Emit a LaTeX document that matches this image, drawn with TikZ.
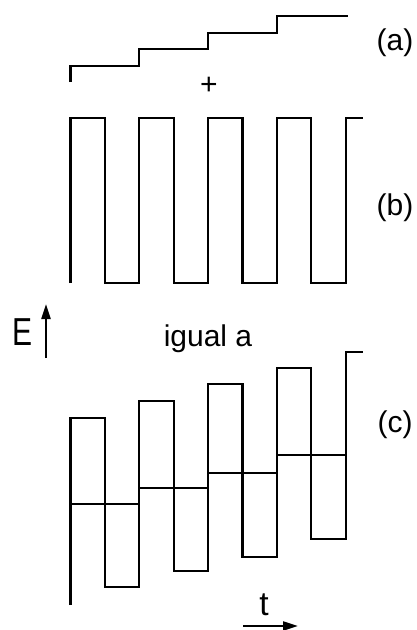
\documentclass[tikz,border=0pt]{standalone}
\usepackage{fontspec}
\setmainfont{Liberation Sans}
\usetikzlibrary{arrows.meta}

\begin{document}
\begin{tikzpicture}[x=1pt, y=-1pt,
    wave/.style={line width=2.2pt, line join=miter},
    lbl/.style={font=\fontsize{30}{34}\selectfont, inner sep=0pt},
    axis/.style={line width=2.2pt, -{Triangle[length=15pt, width=9pt]}}
]
\useasboundingbox (0,0) rectangle (416,630);

% (a) staircase
\draw[wave] (70.5,82) |- (139.3,66) |- (208.1,49) |- (276.9,33) |- (348,16);
\node[lbl] (lblA) at (395,43) {(a)};
\node[lbl] (plus) at (209,86) {+};

% (b) square wave
\draw[wave] (70.5,283) |- (104.9,118) |- (139.3,283) |- (173.7,118) |- (208.1,283)
    |- (242.5,118) |- (276.9,283) |- (311.3,118) |- (345.7,283) |- (363,118);
\node[lbl] (lblB) at (395,208) {(b)};

% axis E
\coordinate (eLow) at (46,358);
\coordinate (eHigh) at (46,304);
\draw[axis] (eLow) -- (eHigh);
\node[lbl, yscale=1.3] (eName) at (23,332) {E};
\node[lbl] (equal) at (208,339) {igual a};

% (c) sum
\draw[wave] (70.5,605) |- (104.9,418) |- (139.3,587) |- (173.7,401) |- (208.1,571)
    |- (242.5,384) |- (276.9,557) |- (311.3,368) |- (345.7,539) |- (363,352);
\draw[wave] (70.5,504) -- (139.3,504);
\draw[wave] (139.3,488) -- (208.1,488);
\draw[wave] (208.1,473) -- (276.9,473);
\draw[wave] (276.9,455) -- (345.7,455);
\node[lbl] (lblC) at (395,425) {(c)};

% axis t
\coordinate (tLeft) at (243,626);
\coordinate (tRight) at (298,626);
\draw[axis] (tLeft) -- (tRight);
\node[lbl, scale=1.12] (tName) at (264,605) {t};
\end{tikzpicture}
\end{document}
